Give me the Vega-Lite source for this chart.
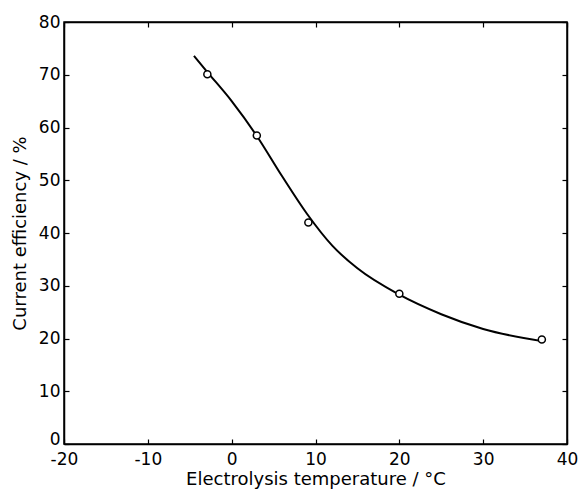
{
  "$schema": "https://vega.github.io/schema/vega-lite/v6.json",
  "width": 503,
  "height": 422,
  "autosize": "none",
  "padding": {"left": 64, "top": 22, "right": 12, "bottom": 48},
  "background": "white",
  "config": {
    "view": {"stroke": "black", "strokeWidth": 1.5},
    "font": "DejaVu Sans",
    "axis": {
      "grid": false,
      "domainColor": "black",
      "tickColor": "black",
      "labelColor": "black",
      "titleColor": "black",
      "labelFont": "DejaVu Sans",
      "titleFont": "DejaVu Sans",
      "labelFontSize": 17,
      "titleFontSize": 18,
      "titleFontWeight": "normal",
      "tickSize": -5,
      "tickWidth": 1.2,
      "domainWidth": 1.5,
      "labelFlush": false,
      "labelOverlap": false,
      "labelPadding": 9
    }
  },
  "datasets": {
    "curve": [
      {"t": -4.5, "ce": 73.6},
      {"t": -3, "ce": 70.7},
      {"t": 0, "ce": 65.0},
      {"t": 3, "ce": 58.4},
      {"t": 6, "ce": 50.8},
      {"t": 9, "ce": 43.6},
      {"t": 12, "ce": 37.6},
      {"t": 15, "ce": 33.3},
      {"t": 20, "ce": 28.3},
      {"t": 25, "ce": 24.6},
      {"t": 30, "ce": 21.8},
      {"t": 37, "ce": 19.5}
    ],
    "points": [
      {"t": -2.9, "ce": 70.1},
      {"t": 3.0, "ce": 58.5},
      {"t": 9.15, "ce": 42.0},
      {"t": 20.0, "ce": 28.5},
      {"t": 37.0, "ce": 19.8}
    ]
  },
  "layer": [
    {
      "data": {"name": "curve"},
      "mark": {"type": "line", "color": "black", "strokeWidth": 2, "interpolate": "monotone"},
      "encoding": {
        "x": {"field": "t", "type": "quantitative", "scale": {"domain": [-20, 40], "nice": false, "zero": false},
          "axis": {"title": "Electrolysis temperature / °C", "values": [-20, -10, 0, 10, 20, 30, 40], "labelExpr": "toString(datum.value)", "labelPadding": 12, "titlePadding": 3}},
        "y": {"field": "ce", "type": "quantitative", "scale": {"domain": [0, 80], "nice": false},
          "axis": {"title": "Current efficiency / %", "values": [0, 10, 20, 30, 40, 50, 60, 70, 80], "labelExpr": "toString(datum.value)", "labelOffset": {"condition": {"test": "datum.value == 0", "value": -5}, "value": 0}, "titlePadding": 9}}
      }
    },
    {
      "data": {"name": "points"},
      "mark": {"type": "point", "shape": "circle", "size": 50, "filled": true, "fill": "white", "stroke": "black", "strokeWidth": 1.5, "opacity": 1},
      "encoding": {
        "x": {"field": "t", "type": "quantitative",
          "axis": {"orient": "top", "labels": false, "title": null, "values": [-20, -10, 0, 10, 20, 30, 40]}},
        "y": {"field": "ce", "type": "quantitative",
          "axis": {"orient": "right", "labels": false, "title": null, "values": [0, 10, 20, 30, 40, 50, 60, 70, 80]}}
      }
    }
  ],
  "resolve": {"axis": {"x": "independent", "y": "independent"}}
}
